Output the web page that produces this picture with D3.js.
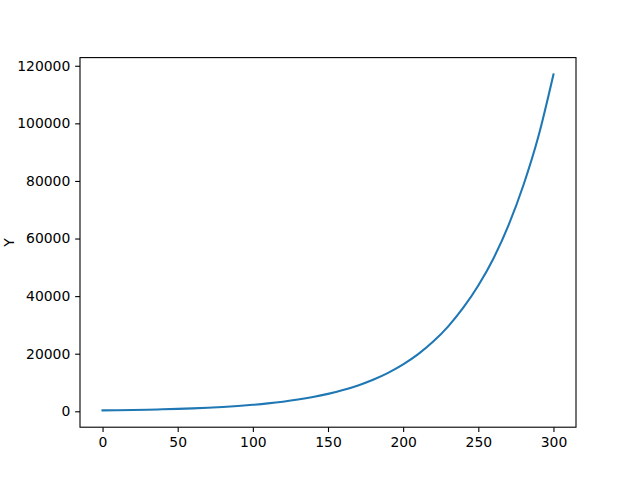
<!DOCTYPE html>
<html>
<head>
<meta charset="utf-8">
<script src="https://cdn.jsdelivr.net/npm/d3@7"></script>
<style>
  body { margin: 0; background: #fff; }
  svg { display: block; }
  .tick text { font-family: "DejaVu Sans", sans-serif; font-size: 13.9px; fill: #000; }
  .line { fill: none; stroke: #1f77b4; stroke-width: 2.08px; stroke-linecap: square; }
  .frame { fill: none; stroke: #000; stroke-width: 1.1px; }
</style>
</head>
<body>
<svg id="chart"></svg>
<script>
// values
var xs = [0, 10, 20, 30, 40, 50, 60, 70, 80, 90, 100, 110, 120, 130, 140, 150,
  160, 170, 180, 190, 200, 210, 220, 230, 240, 250, 260, 270, 280, 290, 300]
var ys = [310, 378, 461, 562, 685, 835, 1018, 1241, 1513, 1844, 2248, 2740, 3340, 4072, 4964, 6051,
  7376, 8991, 10960, 13360, 16287, 19854, 24202, 29502, 35963, 43700, 53000, 64500, 78500, 95500, 117000]
var xTicks = [0, 50, 100, 150, 200, 250, 300]
var yTicks = [0, 20000, 40000, 60000, 80000, 100000, 120000]
var yLabel = 'Y'

var data = xs.map(function(x, i) { return { x: x, y: ys[i] } })

var W = 640, H = 480
var margin = { top: 57.6, right: 64, bottom: 52.8, left: 80 },
  width = W - margin.left - margin.right,
  height = H - margin.top - margin.bottom

var svg = d3.select('#chart').attr('width', W).attr('height', H)
var g = svg.append('g').attr('transform', 'translate(' + margin.left + ',' + margin.top + ')')

// matplotlib style 5% margins
function pad(ext) {
  var r = ext[1] - ext[0]
  return [ext[0] - 0.05 * r, ext[1] + 0.05 * r]
}

var x = d3.scaleLinear().domain(pad(d3.extent(xs))).range([0, width])
var y = d3.scaleLinear().domain(pad(d3.extent(ys))).range([height, 0])

var tick = 4.86

var line = d3.line()
  .x(function(d) { return x(d.x) })
  .y(function(d) { return y(d.y) })
  .curve(d3.curveMonotoneX)

g.append('path').datum(data).attr('class', 'line').attr('d', line)

var xAxis = g.append('g')
  .attr('transform', 'translate(0,' + height + ')')
  .call(d3.axisBottom(x).tickValues(xTicks).tickSize(tick).tickPadding(tick).tickFormat(d3.format('d')))
xAxis.select('.domain').remove()
xAxis.selectAll('.tick line').attr('stroke-width', 1.1)
xAxis.selectAll('.tick text').attr('dy', '0.76em')

var yAxis = g.append('g')
  .call(d3.axisLeft(y).tickValues(yTicks).tickSize(tick).tickPadding(tick).tickFormat(d3.format('d')))
yAxis.select('.domain').remove()
yAxis.selectAll('.tick line').attr('stroke-width', 1.1)

g.append('rect').attr('class', 'frame')
  .attr('x', 0).attr('y', 0).attr('width', width).attr('height', height)

svg.append('text')
  .attr('transform', 'translate(13.5,' + (margin.top + height / 2) + ') rotate(-90)')
  .attr('text-anchor', 'middle')
  .style('font-family', '"DejaVu Sans", sans-serif')
  .style('font-size', '13.9px')
  .text(yLabel)
</script>
</body>
</html>
